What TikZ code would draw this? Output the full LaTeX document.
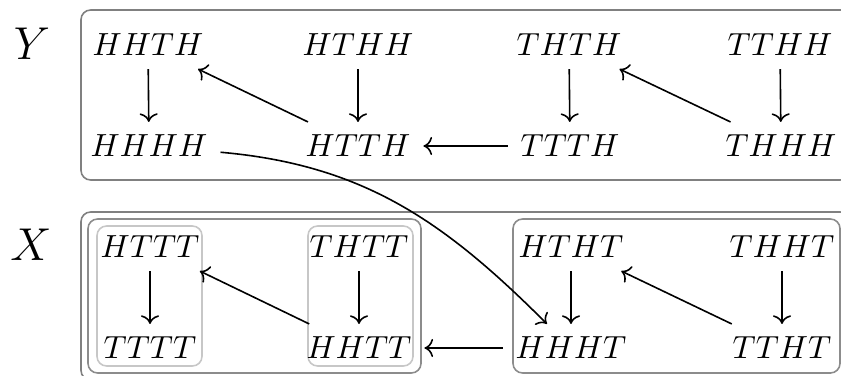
\documentclass[tikz,border=0pt]{standalone}
\usetikzlibrary{arrows.meta}
\begin{document}
\begin{tikzpicture}[x=0.3125pt,y=-0.3125pt,
  st/.style={inner sep=3.9pt,font=\fontsize{10.2pt}{12pt}\selectfont},
  lab/.style={font=\Large},
  arr/.style={->,line width=0.5pt},
  outerbox/.style={draw=black!50,line width=0.5pt,rounded corners=3pt},
  groupbox/.style={draw=black!45,line width=0.5pt,rounded corners=3pt},
  cellbox/.style={draw=black!22,line width=0.5pt,rounded corners=3pt}]
\useasboundingbox (0,0) rectangle (841,376);
% boxes
\draw[outerbox] (81,10) rectangle (850,180);
\draw[outerbox] (81,212) rectangle (850,380);
\draw[groupbox] (88,219) rectangle (421,373);
\draw[groupbox] (513,219) rectangle (840,373);
\draw[cellbox] (97,226) rectangle (202,366);
\draw[cellbox] (308,226) rectangle (413,366);
% labels
\node[lab] (Y) at (32,44) {$Y$};
\node[lab] (X) at (31,245) {$X$};
% Y nodes
\node[st] (hhth) at (148,45) {$HHTH$};
\node[st] (hthh) at (358,45) {$HTHH$};
\node[st] (thth) at (569,45) {$THTH$};
\node[st] (tthh) at (780,45) {$TTHH$};
\node[st] (hhhh) at (149,146) {$HHHH$};
\node[st] (htth) at (358,146) {$HTTH$};
\node[st] (ttth) at (570,146) {$TTTH$};
\node[st] (thhh) at (781,146) {$THHH$};
% X nodes
\node[st] (httt) at (150,247) {$HTTT$};
\node[st] (thtt) at (359,247) {$THTT$};
\node[st] (htht) at (571,247) {$HTHT$};
\node[st] (thht) at (782,247) {$THHT$};
\node[st] (tttt) at (150,348) {$TTTT$};
\node[st] (hhtt) at (359,348) {$HHTT$};
\node[st] (hhht) at (571,348) {$HHHT$};
\node[st] (ttht) at (782,348) {$TTHT$};
% Y arrows
\draw[arr] (hhth) -- (hhhh);
\draw[arr] (hthh) -- (htth);
\draw[arr] (htth) -- (hhth);
\draw[arr] (ttth) -- (htth);
\draw[arr] (thth) -- (ttth);
\draw[arr] (thhh) -- (thth);
\draw[arr] (tthh) -- (thhh);
% X arrows
\draw[arr] (httt) -- (tttt);
\draw[arr] (thtt) -- (hhtt);
\draw[arr] (hhtt) -- (httt);
\draw[arr] (hhht) -- (hhtt);
\draw[arr] (htht) -- (hhht);
\draw[arr] (ttht) -- (htht);
\draw[arr] (thht) -- (ttht);
% cross arrow
\draw[arr] (hhhh) to[out=-5,in=135] (hhht);
\end{tikzpicture}
\end{document}
